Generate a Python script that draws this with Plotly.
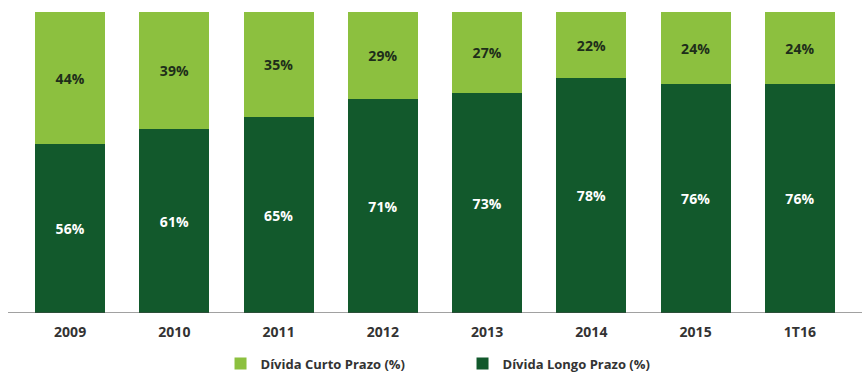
import plotly.graph_objects as go

periods = ["2009", "2010", "2011", "2012", "2013", "2014", "2015", "1T16"]
longo_prazo = [56, 61, 65, 71, 73, 78, 76, 76]
curto_prazo = [44, 39, 35, 29, 27, 22, 24, 24]

DARK = "#12592c"
LIGHT = "#8cc03f"
FONT = "Open Sans"

fig = go.Figure()
fig.add_trace(go.Bar(
    x=periods, y=longo_prazo, name="Dívida Longo Prazo (%)",
    marker=dict(color=DARK, line=dict(width=0)),
    text=[f"{v}%" for v in longo_prazo], textposition="inside",
    insidetextanchor="middle", textangle=0,
    textfont=dict(family=FONT, size=14, color="white", weight="bold"),
))
fig.add_trace(go.Bar(
    x=periods, y=curto_prazo, name="Dívida Curto Prazo (%)",
    marker=dict(color=LIGHT, line=dict(width=0)),
    text=[f"{v}%" for v in curto_prazo], textposition="inside",
    insidetextanchor="middle", textangle=0,
    textfont=dict(family=FONT, size=14, color="#1e2e1a", weight="bold"),
))

fig.update_layout(
    width=862, height=372,
    margin=dict(l=18, r=10, t=12, b=59, autoexpand=False),
    barmode="stack", bargap=0.33,
    plot_bgcolor="white", paper_bgcolor="white",
    showlegend=True,
    legend=dict(
        orientation="h", x=0.533, xanchor="center", y=-0.118, yanchor="top",
        traceorder="reversed",
        font=dict(family=FONT, size=13, color="#333333", weight="bold"),
        entrywidth=197, entrywidthmode="pixels",
        itemwidth=30,
    ),
    xaxis=dict(
        showgrid=False, zeroline=False, showline=False, ticks="",
        ticklabelstandoff=9,
        tickfont=dict(family=FONT, size=14, color="#333333", weight="bold"),
    ),
    yaxis=dict(range=[0, 100], visible=False, showgrid=False),
)

# baseline under the bars
fig.add_shape(type="line", xref="paper", yref="y",
              x0=-0.012, x1=1.012, y0=0, y1=0,
              line=dict(color="#444444", width=1.2))

fig.write_html("out.html")
